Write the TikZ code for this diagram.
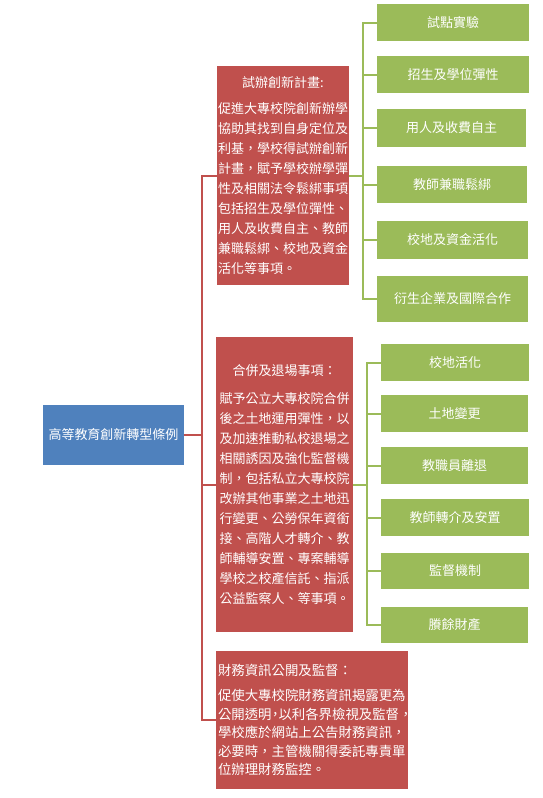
\documentclass[tikz,border=0pt]{standalone}
\usepackage{fontspec}
\newfontfamily\cjk{Noto Sans CJK TC}
\definecolor{ored}{RGB}{192,80,77}
\definecolor{ogreen}{RGB}{155,187,89}
\definecolor{oblue}{RGB}{79,129,189}
\begin{document}
\begin{tikzpicture}[x=1pt,y=-1pt,
  base/.style={inner sep=0pt, text=white, font=\cjk\fontsize{13}{20}\selectfont},
  rootbox/.style={base, fill=oblue, minimum width=141pt, minimum height=60pt},
  redbox/.style={base, fill=ored, align=left},
  greenbox/.style={base, fill=ogreen, align=center},
  redline/.style={draw=ored, line width=2pt},
  greenline/.style={draw=ogreen, line width=2pt}]
\useasboundingbox (0,0) rectangle (543,798);
\fill[white] (0,0) rectangle (543,798);

\node[rootbox] (root) at (113.5,435) {高等教育創新轉型條例};

\node[redbox, minimum width=132pt, minimum height=219pt, text width=130pt] (r1) at (283,175.5)
 {\makebox[130pt][c]{試辦創新計畫:}\\[6pt]
  促進大專校院創新辦學\\
  協助其找到自身定位及\\
  利基，學校得試辦創新\\
  計畫，賦予學校辦學彈\\
  性及相關法令鬆綁事項\\
  包括招生及學位彈性、\\
  用人及收費自主、教師\\
  兼職鬆綁、校地及資金\\
  活化等事項。};

\node[redbox, minimum width=137pt, minimum height=295pt, text width=130pt] (r2) at (284.5,484.5)
 {\makebox[130pt][c]{合併及退場事項：}\\[8pt]
  賦予公立大專校院合併\\
  後之土地運用彈性，以\\
  及加速推動私校退場之\\
  相關誘因及強化監督機\\
  制，包括私立大專校院\\
  改辦其他事業之土地迅\\
  行變更、公勞保年資銜\\
  接、高階人才轉介、教\\
  師輔導安置、專案輔導\\
  學校之校產信託、指派\\
  公益監察人、等事項。};

\node[redbox, minimum width=192pt, minimum height=138pt, text width=188pt,
  font=\cjk\fontsize{13.4}{18.5}\selectfont] (r3) at (312,720)
 {財務資訊公開及監督：\\[7pt]
  促使大專校院財務資訊揭露更為\\
  公開透明\kern-3pt，\kern-3.5pt以利各界檢視及監督，\\
  學校應於網站上公告財務資訊，\\
  必要時，主管機關得委託專責單\\
  位辦理財務監控。};

% green column 1
\node[greenbox, minimum width=152pt, minimum height=37pt] (g1) at (453,22.5) {試點實驗};
\node[greenbox, minimum width=152pt, minimum height=37pt] (g2) at (453,74.5) {招生及學位彈性};
\node[greenbox, minimum width=149pt, minimum height=38pt] (g3) at (451.5,128) {用人及收費自主};
\node[greenbox, minimum width=150pt, minimum height=37pt] (g4) at (452,184.5) {教師兼職鬆綁};
\node[greenbox, minimum width=151pt, minimum height=38pt] (g5) at (452.5,240) {校地及資金活化};
\node[greenbox, minimum width=151pt, minimum height=46pt] (g6) at (452.5,299) {衍生企業及國際合作};

% green column 2
\node[greenbox, minimum width=148pt, minimum height=37pt] (h1) at (455,362.5) {校地活化};
\node[greenbox, minimum width=147pt, minimum height=37pt] (h2) at (454.5,413.5) {土地變更};
\node[greenbox, minimum width=147pt, minimum height=37pt] (h3) at (454.5,465.5) {教職員離退};
\node[greenbox, minimum width=148pt, minimum height=37pt] (h4) at (455,517.5) {教師轉介及安置};
\node[greenbox, minimum width=148pt, minimum height=36pt] (h5) at (455,571) {監督機制};
\node[greenbox, minimum width=147pt, minimum height=36pt] (h6) at (454.5,625) {賸餘財產};

% red connectors
\coordinate (rj) at (202,435);
\draw[redline] (root.east) -- (root.east -| rj);
\draw[redline] (r1.west) -- (r1.west -| rj) -- (r3.west -| rj) -- (r3.west);
\draw[redline] (r2.west) -- (r2.west -| rj);

% green connectors column 1
\coordinate (gj) at (362.7,175.5);
\draw[greenline] (r1.east) -- (gj);
\draw[greenline] (g1.west) -- (g1.west -| gj) -- (g6.west -| gj) -- (g6.west);
\foreach \n in {g2,g3,g4,g5} \draw[greenline] (\n.west) -- (\n.west -| gj);

% green connectors column 2
\coordinate (hj) at (367,484.5);
\draw[greenline] (r2.east) -- (hj);
\draw[greenline] (h1.west) -- (h1.west -| hj) -- (h6.west -| hj) -- (h6.west);
\foreach \n in {h2,h3,h4,h5} \draw[greenline] (\n.west) -- (\n.west -| hj);
\end{tikzpicture}
\end{document}
